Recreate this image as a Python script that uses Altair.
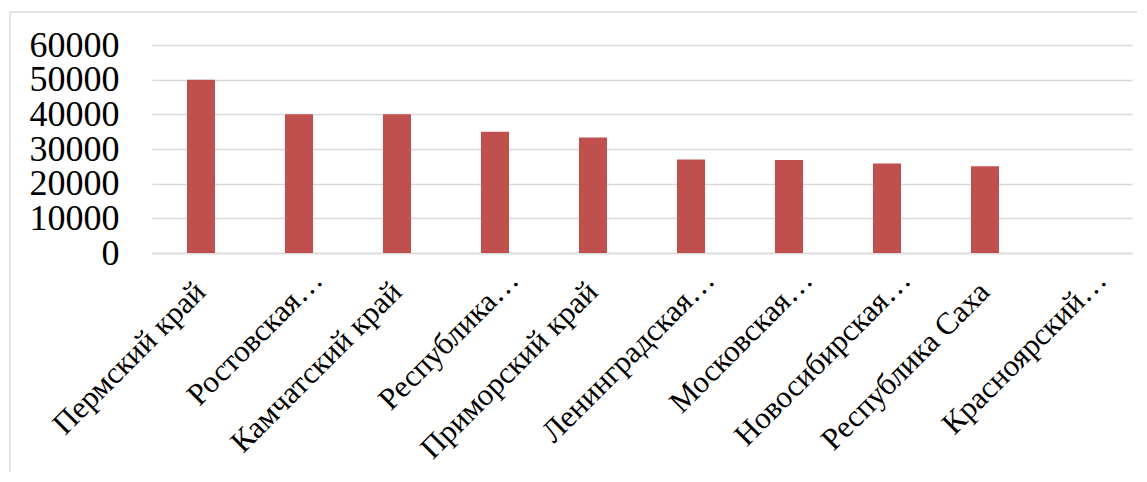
import altair as alt
import pandas as pd

categories = [
    "Пермский край",
    "Ростовская…",
    "Камчатский край",
    "Республика…",
    "Приморский край",
    "Ленинградская…",
    "Московская…",
    "Новосибирская…",
    "Республика Саха",
    "Красноярский…",
]
values = [50000, 40000, 40000, 35000, 33300, 27000, 26800, 25800, 25000, None]
y_ticks = [0, 10000, 20000, 30000, 40000, 50000, 60000]

df = pd.DataFrame({"region": categories, "value": values})

W, H = 980, 208
PAD = {"left": 144, "top": 37, "right": 5, "bottom": 219}
FRAME = "#d9d9d9"
FONT = "Liberation Serif"
IS_CUT = "indexof(datum.value, '…') >= 0"

bars = alt.Chart(df).mark_bar(color="#C0504D").encode(
    x=alt.X(
        "region:N",
        sort=None,
        scale=alt.Scale(domain=categories, paddingInner=0.714, paddingOuter=0.357),
        axis=alt.Axis(
            title=None,
            labelAngle=-45,
            labelAlign="right",
            labelBaseline="middle",
            labelFont=FONT,
            labelFontSize=31,
            labelColor="#000000",
            labelPadding={"condition": {"test": IS_CUT, "value": 22}, "value": 34},
            labelOffset={"condition": {"test": IS_CUT, "value": 19}, "value": 0},
            labelLimit=0,
            labelOverlap=False,
            ticks=False,
            domain=True,
            domainColor=FRAME,
            domainWidth=1.5,
            grid=False,
        ),
    ),
    y=alt.Y(
        "value:Q",
        scale=alt.Scale(domain=[0, 60000], nice=False),
        axis=alt.Axis(
            title=None,
            values=y_ticks,
            format="d",
            labelFont=FONT,
            labelFontSize=36,
            labelColor="#000000",
            labelPadding=33,
            labelOverlap=False,
            ticks=False,
            domain=False,
            grid=True,
            gridColor=FRAME,
            gridWidth=1.5,
        ),
    ),
)

frame_df = pd.DataFrame({"k": [0]})
left_line = alt.Chart(frame_df).mark_rule(color=FRAME, strokeWidth=1.5).encode(
    x=alt.value(-PAD["left"] + 2),
    y=alt.value(-PAD["top"] + 4),
    y2=alt.value(H + PAD["bottom"]),
)
top_line = alt.Chart(frame_df).mark_rule(color=FRAME, strokeWidth=1.5).encode(
    x=alt.value(-PAD["left"] + 2),
    x2=alt.value(W + PAD["right"]),
    y=alt.value(-PAD["top"] + 4),
)

chart = (
    alt.layer(left_line, top_line, bars)
    .properties(
        width=W,
        height=H,
        padding=PAD,
        autosize=alt.AutoSizeParams(type="none"),
    )
    .configure(font=FONT, background="#ffffff")
    .configure_view(stroke=None)
)

chart.save("out.html", embed_options={"renderer": "svg", "actions": False})
